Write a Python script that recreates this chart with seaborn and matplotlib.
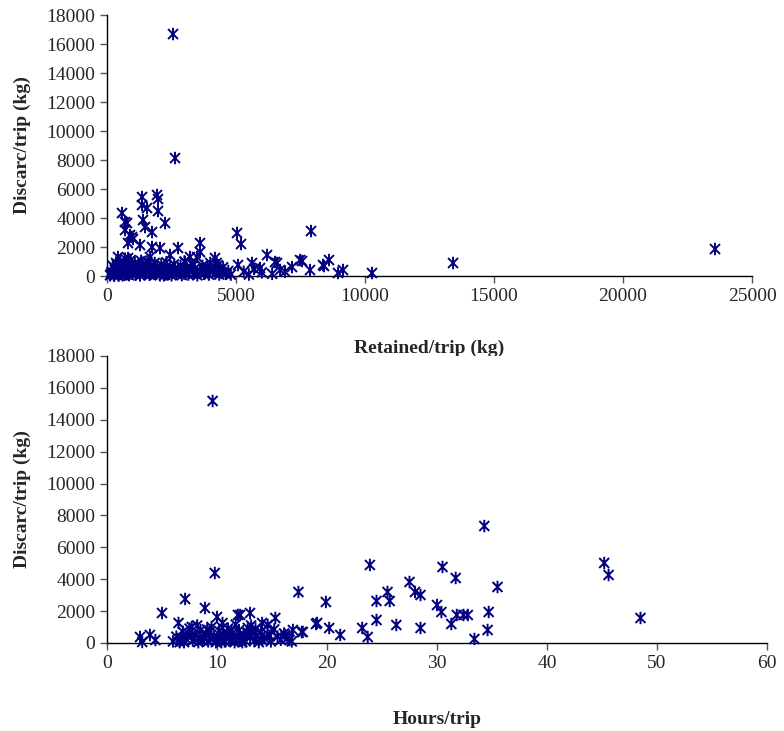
import matplotlib
matplotlib.use("Agg")
import matplotlib.pyplot as plt
from matplotlib.path import Path
import seaborn as sns

# upper panel: retained vs discards per trip (kg)
retained = [
    2558, 2636, 23566, 13411, 10271, 1357, 1938, 1977, 1357, 1550, 1977, 581, 775, 2248,
    1395, 1473, 1744, 891, 1008, 5039, 5194, 7907, 3605, 2752, 2442, 814, 1279, 1744,
    2054, 1667, 3488, 4186, 5078, 5620, 6202, 6589, 6706, 7171, 7481, 7868, 8372, 8605,
    8954, 9147, 698, 698, 969, 3605, 3217, 3023, 426, 814, 6512, 5930, 7560, 8411,
    120, 180, 220, 250, 300, 350, 380, 420, 450, 500, 520, 560, 600, 640, 680, 700,
    740, 780, 820, 850, 880, 920, 960, 1000, 1040, 1080, 1100, 1150, 1200, 1230, 1280,
    1320, 1350, 1400, 1450, 1480, 1520, 1560, 1600, 1650, 1700, 1750, 1800, 1850, 1900,
    1950, 2000, 2050, 2100, 2150, 2200, 2250, 2300, 2350, 2400, 2450, 2500, 2550, 2600,
    2700, 2750, 2800, 2850, 2900, 2950, 3000, 3050, 3100, 3150, 3200, 3300, 3350, 3400,
    3450, 3500, 3600, 3700, 3750, 3800, 3900, 3950, 4000, 4100, 4150, 4200, 4300, 4350,
    4400, 4450, 4500, 4600, 4700, 4800, 150, 280, 400, 600, 900, 1250, 1700, 2200, 2650,
    3250, 3850, 4250, 5300, 5500, 5700, 6000, 6400, 6900,
]
discards_top = [
    16690, 8138, 1862, 897, 207, 5449, 5587, 5311, 4897, 4690, 4483, 4345, 3655, 3655,
    3862, 3379, 3035, 2828, 2552, 2966, 2207, 3103, 2276, 1931, 1448, 2276, 2138, 2000,
    1931, 1310, 1310, 1241, 759, 897, 1448, 897, 414, 621, 1103, 414, 759, 1103,
    207, 414, 3724, 3172, 2690, 1655, 1310, 966, 1310, 1241, 966, 552, 1035, 690,
    50, 300, 700, 120, 450, 900, 200, 600, 30, 350, 1000, 150, 700, 400, 80, 1200,
    500, 250, 850, 60, 400, 1100, 200, 650, 350, 900, 100, 500, 250, 750, 40,
    1050, 400, 600, 150, 800, 300, 1000, 500, 80, 700, 250, 450, 900, 150,
    600, 350, 50, 800, 300, 550, 100, 950, 400, 200, 650, 50, 300, 800,
    150, 500, 250, 700, 60, 400, 1000, 200, 550, 100, 350, 800, 150, 500,
    250, 50, 400, 700, 150, 300, 600, 100, 900, 350, 550, 200, 750, 100,
    450, 250, 600, 150, 350, 100, 150, 20, 350, 50, 550, 300, 150, 50, 350,
    600, 450, 900, 300, 100, 500, 250, 150, 300,
]

# lower panel: hours vs discards per trip (kg)
hours = [
    9.6, 34.3, 23.9, 30.5, 31.7, 35.5, 27.5, 28.0, 28.5, 25.5, 24.5, 25.7, 19.9, 30.0,
    30.4, 34.7, 31.8, 32.4, 32.8, 24.5, 31.3, 19.0, 20.2, 23.2, 26.3, 28.5, 34.6, 21.2,
    23.7, 33.4, 17.8, 17.4, 15.3, 13.0, 12.1, 14.1, 14.6, 16.2, 16.6, 16.9, 17.7, 9.8,
    7.1, 5.0, 8.9, 10.0, 6.5, 3.0, 3.9, 4.4, 3.2, 7.7, 10.5, 11.9, 45.2, 45.6, 48.5, 19.1,
    6.0, 6.3, 6.6, 6.9, 7.2, 7.5, 7.8, 8.0, 8.3, 8.5, 8.8, 9.0, 9.2, 9.5, 9.7, 10.0,
    10.2, 10.4, 10.6, 10.8, 11.0, 11.2, 11.4, 11.6, 11.8, 12.0, 12.2, 12.4, 12.6, 12.8,
    13.0, 13.2, 13.4, 13.6, 13.8, 14.0, 14.3, 14.6, 14.9, 15.2, 15.5, 15.8, 16.1, 16.4,
    16.8, 7.0, 7.7, 8.2, 8.7, 9.3, 9.9, 10.5, 11.1, 11.7, 12.3, 12.9, 13.5, 14.1, 14.8,
    10.1, 10.9, 11.5, 12.1, 12.7, 9.4, 8.4, 7.4, 6.8, 13.1, 11.3, 10.7, 9.1,
]
discards_bottom = [
    15178, 7338, 4892, 4767, 4077, 3512, 3826, 3199, 3011, 3199, 2634, 2634, 2572, 2383,
    1944, 1944, 1756, 1756, 1756, 1442, 1192, 1192, 941, 941, 1129, 941, 815, 502,
    376, 251, 690, 3199, 1568, 1882, 1756, 1254, 1129, 502, 188, 815, 690, 4390,
    2760, 1882, 2195, 1631, 1254, 376, 502, 188, 63, 1004, 1254, 1756, 5018, 4265, 1568, 1254,
    100, 400, 50, 700, 250, 900, 150, 500, 50, 800, 300, 600, 100, 1000, 400, 200,
    750, 50, 500, 300, 900, 150, 600, 50, 400, 800, 250, 550, 100, 950,
    350, 650, 150, 450, 50, 700, 300, 550, 100, 850, 400, 200, 600, 300,
    100, 50, 450, 1100, 150, 700, 50, 950, 400, 1150, 50, 600, 900, 200, 450,
    350, 600, 250, 150, 700, 250, 350, 600, 300, 1100, 750, 100, 850,
]

yticks = list(range(0, 18001, 2000))

# excel style "star" marker: an x with a vertical bar through it
star = Path(
    [(-1, -1), (1, 1), (-1, 1), (1, -1), (0, -1.25), (0, 1.25)],
    [Path.MOVETO, Path.LINETO, Path.MOVETO, Path.LINETO, Path.MOVETO, Path.LINETO],
)

sns.set_theme(style="ticks")
plt.rcParams["font.family"] = ["Liberation Serif", "DejaVu Serif"]

fig = plt.figure(figsize=(7.84, 7.31), dpi=100)
ax1 = fig.add_axes([0.1365, 0.6224, 0.8227, 0.357])
ax2 = fig.add_axes([0.1365, 0.1204, 0.8418, 0.3926])

navy = "#000080"
for ax, xs, ys in [(ax1, retained, discards_top), (ax2, hours, discards_bottom)]:
    sns.scatterplot(x=xs, y=ys, ax=ax, marker=star, s=80, color=navy,
                    edgecolor=navy, facecolor="none", linewidth=1.4, clip_on=False, zorder=3)
    ax.set_ylim(0, 18000)
    ax.set_yticks(yticks)
    ax.set_ylabel("Discarc/trip (kg)", fontsize=14, fontweight="bold", labelpad=11)
    ax.tick_params(direction="out", length=5, width=1, labelsize=14, color="#555555")
    for side in ["top", "right"]:
        ax.spines[side].set_visible(False)
    for side in ["left", "bottom"]:
        ax.spines[side].set_color("black")
        ax.spines[side].set_linewidth(1)

ax1.set_xlim(0, 25000)
ax1.set_xticks(range(0, 25001, 5000))
ax1.set_xlabel("Retained/trip (kg)", fontsize=14, fontweight="bold", labelpad=25)

ax2.set_xlim(0, 60)
ax2.set_xticks(range(0, 61, 10))
ax2.set_xlabel("Hours/trip", fontsize=14, fontweight="bold", labelpad=28)

fig.savefig("out.png", dpi=100)
